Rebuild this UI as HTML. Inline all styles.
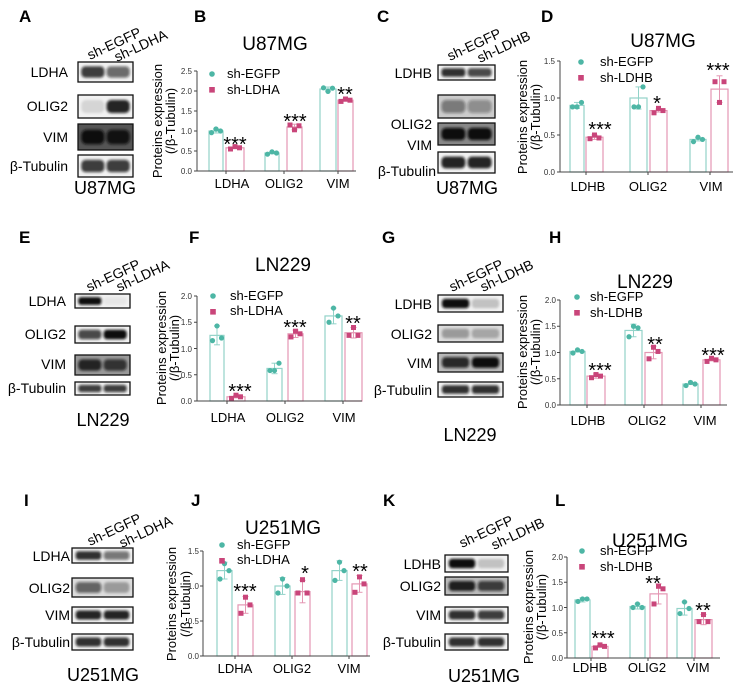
<!DOCTYPE html>
<html><head><meta charset="utf-8"><style>
body{margin:0;background:#fff}
svg{display:block;font-family:"Liberation Sans",Arial,sans-serif}
.pl{font-size:17px;font-weight:bold}
.ti{font-size:19px;text-anchor:middle}
.tk{font-size:8px;text-anchor:end;fill:#333}
.ct{font-size:13px;text-anchor:middle}
.yl{font-size:13px;text-anchor:middle}
.lg{font-size:13px}
.st{font-size:20px;text-anchor:middle}
.bl{font-size:14px;text-anchor:end}
.hd{font-size:14px}
.cl{font-size:18px;text-anchor:middle}
</style></head><body>
<svg id="s" width="739" height="690" viewBox="0 0 739 690" xmlns="http://www.w3.org/2000/svg">
<defs><filter id="b" x="-20%" y="-50%" width="140%" height="200%"><feGaussianBlur stdDeviation="1.3"/></filter></defs>
<g id="shapes"></g>
<text class="pl" x="19" y="22">A</text><text class="pl" x="194" y="22">B</text>
<text class="pl" x="377" y="22">C</text><text class="pl" x="541" y="22">D</text>
<text class="pl" x="19" y="243">E</text><text class="pl" x="189" y="243">F</text>
<text class="pl" x="382" y="243">G</text><text class="pl" x="549" y="243">H</text>
<text class="pl" x="24" y="506">I</text><text class="pl" x="191" y="506">J</text>
<text class="pl" x="383" y="506">K</text><text class="pl" x="555" y="506">L</text>

<text class="bl" x="68" y="77">LDHA</text><text class="bl" x="68" y="111">OLIG2</text>
<text class="bl" x="68" y="142">VIM</text><text class="bl" x="68" y="171">β-Tubulin</text>
<text class="hd" transform="translate(90,60) rotate(-25)">sh-EGFP</text>
<text class="hd" transform="translate(117,62) rotate(-25)">sh-LDHA</text>
<text class="cl" x="105" y="194">U87MG</text>
<text class="bl" x="432" y="78">LDHB</text><text class="bl" x="432" y="129">OLIG2</text>
<text class="bl" x="432" y="150">VIM</text><text class="bl" x="436" y="176">β-Tubulin</text>
<text class="hd" transform="translate(450,61) rotate(-25)">sh-EGFP</text>
<text class="hd" transform="translate(480,63) rotate(-25)">sh-LDHB</text>
<text class="cl" x="467" y="194">U87MG</text>
<text class="bl" x="66" y="306">LDHA</text><text class="bl" x="66" y="339">OLIG2</text>
<text class="bl" x="66" y="369">VIM</text><text class="bl" x="66" y="393">β-Tubulin</text>
<text class="hd" transform="translate(89,292) rotate(-25)">sh-EGFP</text>
<text class="hd" transform="translate(119,292) rotate(-25)">sh-LDHA</text>
<text class="cl" x="103" y="426">LN229</text>
<text class="bl" x="432" y="309">LDHB</text><text class="bl" x="432" y="339">OLIG2</text>
<text class="bl" x="432" y="368">VIM</text><text class="bl" x="432" y="395">β-Tubulin</text>
<text class="hd" transform="translate(452,292) rotate(-25)">sh-EGFP</text>
<text class="hd" transform="translate(483,292) rotate(-25)">sh-LDHB</text>
<text class="cl" x="470" y="441">LN229</text>
<text class="bl" x="70" y="561">LDHA</text><text class="bl" x="70" y="593">OLIG2</text>
<text class="bl" x="70" y="620">VIM</text><text class="bl" x="70" y="647">β-Tubulin</text>
<text class="hd" transform="translate(90,546) rotate(-25)">sh-EGFP</text>
<text class="hd" transform="translate(122,548) rotate(-25)">sh-LDHA</text>
<text class="cl" x="103" y="681">U251MG</text>
<text class="bl" x="441" y="569">LDHB</text><text class="bl" x="441" y="591">OLIG2</text>
<text class="bl" x="441" y="620">VIM</text><text class="bl" x="441" y="647">β-Tubulin</text>
<text class="hd" transform="translate(462,548) rotate(-25)">sh-EGFP</text>
<text class="hd" transform="translate(494,550) rotate(-25)">sh-LDHB</text>
<text class="cl" x="484" y="682">U251MG</text>

<text class="ti" x="275" y="50">U87MG</text>
<text class="tk" x="192" y="174">0.0</text><text class="tk" x="192" y="154">0.5</text><text class="tk" x="192" y="134">1.0</text><text class="tk" x="192" y="114">1.5</text><text class="tk" x="192" y="94">2.0</text><text class="tk" x="192" y="74">2.5</text>
<text class="ct" x="232" y="188">LDHA</text><text class="ct" x="284" y="188">OLIG2</text><text class="ct" x="338" y="188">VIM</text>
<text class="yl" transform="translate(162,121) rotate(-90)">Proteins expression</text>
<text class="yl" transform="translate(175,121) rotate(-90)">(/β-Tubulin)</text>
<text class="lg" x="227" y="78">sh-EGFP</text><text class="lg" x="227" y="94">sh-LDHA</text>
<text class="st" x="235" y="151">***</text><text class="st" x="295" y="128">***</text><text class="st" x="345" y="101">**</text>
<text class="ti" x="663" y="47">U87MG</text>
<text class="tk" x="555" y="175">0.0</text><text class="tk" x="555" y="138">0.5</text><text class="tk" x="555" y="101">1.0</text><text class="tk" x="555" y="64">1.5</text>
<text class="ct" x="588" y="191">LDHB</text><text class="ct" x="648" y="191">OLIG2</text><text class="ct" x="711" y="191">VIM</text>
<text class="yl" transform="translate(527,117) rotate(-90)">Proteins expression</text>
<text class="yl" transform="translate(540,117) rotate(-90)">(/β-Tubulin)</text>
<text class="lg" x="600" y="66">sh-EGFP</text><text class="lg" x="600" y="82">sh-LDHB</text>
<text class="st" x="600" y="136">***</text><text class="st" x="657" y="110">*</text><text class="st" x="718" y="77">***</text>
<text class="ti" x="283" y="271">LN229</text>
<text class="tk" x="192" y="404">0.0</text><text class="tk" x="192" y="378">0.5</text><text class="tk" x="192" y="352">1.0</text><text class="tk" x="192" y="325">1.5</text><text class="tk" x="192" y="299">2.0</text>
<text class="ct" x="228" y="422">LDHA</text><text class="ct" x="285" y="422">OLIG2</text><text class="ct" x="344" y="422">VIM</text>
<text class="yl" transform="translate(166,348) rotate(-90)">Proteins expression</text>
<text class="yl" transform="translate(179,348) rotate(-90)">(/β-Tubulin)</text>
<text class="lg" x="230" y="300">sh-EGFP</text><text class="lg" x="230" y="315">sh-LDHA</text>
<text class="st" x="240" y="398">***</text><text class="st" x="295" y="334">***</text><text class="st" x="353" y="330">**</text>
<text class="ti" x="645" y="288">LN229</text>
<text class="tk" x="556" y="408">0.0</text><text class="tk" x="556" y="382">0.5</text><text class="tk" x="556" y="356">1.0</text><text class="tk" x="556" y="329">1.5</text><text class="tk" x="556" y="303">2.0</text>
<text class="ct" x="588" y="425">LDHB</text><text class="ct" x="647" y="425">OLIG2</text><text class="ct" x="705" y="425">VIM</text>
<text class="yl" transform="translate(527,352) rotate(-90)">Proteins expression</text>
<text class="yl" transform="translate(540,352) rotate(-90)">(/β-Tubulin)</text>
<text class="lg" x="590" y="301">sh-EGFP</text><text class="lg" x="590" y="317">sh-LDHB</text>
<text class="st" x="600" y="377">***</text><text class="st" x="655" y="351">**</text><text class="st" x="713" y="362">***</text>
<text class="ti" x="283" y="534">U251MG</text>
<text class="tk" x="199" y="659">0.0</text><text class="tk" x="199" y="624">0.5</text><text class="tk" x="199" y="589">1.0</text><text class="tk" x="199" y="554">1.5</text>
<text class="ct" x="235" y="673">LDHA</text><text class="ct" x="292" y="673">OLIG2</text><text class="ct" x="349" y="673">VIM</text>
<text class="yl" transform="translate(176,604) rotate(-90)">Proteins expression</text>
<text class="yl" transform="translate(190,604) rotate(-90)">(/β-Tubulin)</text>
<text class="lg" x="237" y="549">sh-EGFP</text><text class="lg" x="237" y="564">sh-LDHA</text>
<text class="st" x="245" y="598">***</text><text class="st" x="305" y="580">*</text><text class="st" x="360" y="578">**</text>
<text class="ti" x="650" y="547">U251MG</text>
<text class="tk" x="563" y="661">0.0</text><text class="tk" x="563" y="636">0.5</text><text class="tk" x="563" y="611">1.0</text><text class="tk" x="563" y="585">1.5</text><text class="tk" x="563" y="560">2.0</text>
<text class="ct" x="590" y="672">LDHB</text><text class="ct" x="647" y="672">OLIG2</text><text class="ct" x="698" y="672">VIM</text>
<text class="yl" transform="translate(533,607) rotate(-90)">Proteins expression</text>
<text class="yl" transform="translate(546,607) rotate(-90)">(/β-Tubulin)</text>
<text class="lg" x="600" y="555">sh-EGFP</text><text class="lg" x="600" y="571">sh-LDHB</text>
<text class="st" x="603" y="645">***</text><text class="st" x="653" y="590">**</text><text class="st" x="703" y="617">**</text>
</svg>
<script>
var g=document.getElementById('shapes'),NS='http://www.w3.org/2000/svg';
function el(t,a){var e=document.createElementNS(NS,t);for(var k in a)e.setAttribute(k,a[k]);g.appendChild(e);return e;}
var T='#4db6a5',P='#c9457a',TL='#93d3c9',PL='#e497b3';
function chart(c){
 var ax=c.ax,top=c.top,bot=c.bot,max=c.max,sc=(bot-top)/max;
 function Y(v){return bot-v*sc;}
 c.g.forEach(function(b,i){
  var col=i%2?P:T,lc=i%2?PL:TL,x1=b[0],x2=b[1],cx=(x1+x2)/2,v=b[2],e=b[3],d=b[4]||[-.03,.03,0];
  el('rect',{x:x1,y:Y(v),width:x2-x1,height:bot-Y(v),fill:'none',stroke:lc,'stroke-width':1.2});
  el('line',{x1:cx,x2:cx,y1:Y(v-e),y2:Y(v+e),stroke:lc,'stroke-width':1});
  el('line',{x1:cx-3,x2:cx+3,y1:Y(v+e),y2:Y(v+e),stroke:lc,'stroke-width':1});
  el('line',{x1:cx-3,x2:cx+3,y1:Y(v-e),y2:Y(v-e),stroke:lc,'stroke-width':1});
  [-4.5,0,4.5].forEach(function(o,k){var yy=Y(v+d[k]);
   if(i%2)el('rect',{x:cx+o-2.5,y:yy-2.5,width:5,height:5,fill:col});
   else el('circle',{cx:cx+o,cy:yy,r:2.6,fill:col});});
 });
 el('line',{x1:ax,x2:ax,y1:top,y2:bot,stroke:'#444','stroke-width':1});
 el('line',{x1:ax,x2:c.end,y1:bot,y2:bot,stroke:'#444','stroke-width':1});
 for(var v=0;v<=max+1e-6;v+=.5){el('line',{x1:ax-3,x2:ax,y1:Y(v),y2:Y(v),stroke:'#444'});}
 c.xt.forEach(function(x){el('line',{x1:x,x2:x,y1:bot,y2:bot+3,stroke:'#444'});});
 el('circle',{cx:c.lg[0],cy:c.lg[1],r:2.8,fill:T});
 el('rect',{x:c.lg[0]-2.8,y:c.lg[1]+13,width:5.6,height:5.6,fill:P});
}
chart({ax:197,top:71,bot:171,max:2.5,end:356,xt:[226,284,338],lg:[212,74],g:[
 [209,223,1.0,.05,[-.04,.05,.0]],[226,244,.58,.02],[265,279,.45,.02],[287,302,1.1,.07,[.05,-.07,.03]],[320,336,2.05,.05,[.03,-.06,.02]],[338,353,1.77,.03]]});
chart({ax:560,top:61,bot:172,max:1.5,end:733,xt:[586,648,710],lg:[581,62],g:[
 [570,584,.9,.04,[-.02,-.02,.04]],[586,603,.47,.03,[-.02,.03,-.01]],[630,647,1.0,.15,[-.12,-.12,.15]],[650,667,.83,.02],[690,706,.44,.02],[711,728,1.12,.18,[.1,-.18,.1]]]});
chart({ax:197,top:296,bot:401,max:2.0,end:362,xt:[227,285,343],lg:[213,296],g:[
 [210,224,1.25,.18,[-.1,.18,-.05]],[227,245,.08,.02],[267,282,.62,.1,[-.04,-.04,.1]],[288,303,1.28,.07,[-.06,.05,.0]],[325,342,1.62,.15,[-.12,.15,0]],[345,362,1.3,.1,[-.05,.1,-.05]]]});
chart({ax:560,top:300,bot:405,max:2.0,end:727,xt:[587,644,701],lg:[577,297],g:[
 [570,585,1.02,.01],[587,605,.55,.04],[625,642,1.42,.12,[-.12,.08,.05]],[645,662,1.0,.12,[-.12,.1,.02]],[683,698,.4,.01],[703,720,.86,.02]]});
chart({ax:203,top:551,bot:656,max:1.5,end:370,xt:[235,292,349],lg:[222,545],g:[
 [217,232,1.22,.12,[-.12,.1,0]],[238,253,.73,.12,[-.12,.11,0]],[275,290,1.0,.12,[-.1,.1,0]],[295,310,.92,.16,[-.02,.17,-.02]],[332,347,1.22,.14,[-.14,.12,0]],[352,367,1.03,.12,[-.12,.1,0]]]});
chart({ax:567,top:557,bot:658,max:2.0,end:720,xt:[591,648,694],lg:[582,551],g:[
 [575,590,1.15,.04,[-.03,.02,.02]],[592,608,.23,.02],[630,645,1.02,.05,[-.02,.05,-.02]],[650,667,1.27,.2,[-.2,.15,.1]],[677,692,.98,.13,[-.1,.13,0]],[695,712,.76,.1,[-.04,.1,-.04]]]});
function blot(x1,x2,rows){var w=x2-x1,l1=x1+w*.27,l2=x1+w*.73,lw=w*.42;
 rows.forEach(function(r){var y1=r[0],y2=r[1],h=y2-y1;
  el('rect',{x:x1,y:y1,width:w,height:h,fill:r[4]||'#f2f2f2'});
  [[l1,r[2]],[l2,r[3]]].forEach(function(q){if(q[1]<=0)return;
   el('rect',{x:q[0]-lw/2,y:y1+h*.5-h*.28,width:lw,height:h*.56,rx:h*.2,fill:'#111','fill-opacity':q[1],filter:'url(#b)'});});
  el('rect',{x:x1,y:y1,width:w,height:h,fill:'none',stroke:'#111','stroke-width':1.3});});}
blot(78,133,[[62,82,.8,.6],[95,118,.12,.9],[124,150,1,.95,'#555'],[155,177,.8,.8]]);
blot(438,495,[[65,80,.85,.75],[95,118,.45,.35,'#ccc'],[123,145,1,1,'#888'],[152,173,.9,.9]]);
blot(75,130,[[294,308,1,.05],[326,343,.75,1],[355,375,.85,.75,'#999'],[382,395,.8,.8]]);
blot(438,503,[[295,312,1,.2],[325,342,.3,.25,'#ddd'],[353,372,.85,1,'#bbb'],[382,397,.85,.85]]);
blot(72,133,[[548,563,.85,.55],[578,597,.6,.3,'#ddd'],[607,623,.9,.9],[634,650,.85,.85]]);
blot(445,508,[[555,572,1,.2],[577,595,.9,.75,'#bbb'],[607,623,.85,.8],[634,650,.85,.85]]);
</script>
</body></html>
